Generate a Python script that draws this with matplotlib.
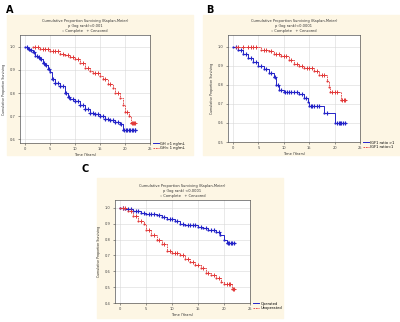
import numpy as np
import matplotlib
matplotlib.use('Agg')
import matplotlib.pyplot as plt
from matplotlib.patches import Rectangle

# PAINEL A - GH
a_azul_t = [0, 0.5, 1, 1.5, 2, 2.5, 3, 3.5, 4, 4.5, 5, 5.3, 6, 7, 8, 8.5, 9, 10, 11, 12, 13, 14, 15, 16, 17, 18, 19, 19.5, 22]
a_azul_s = [1.0, 0.99, 0.985, 0.975, 0.96, 0.955, 0.945, 0.93, 0.92, 0.905, 0.89, 0.86, 0.845, 0.83, 0.80, 0.785, 0.775, 0.765, 0.75, 0.73, 0.715, 0.71, 0.70, 0.69, 0.685, 0.675, 0.665, 0.64, 0.64]
a_azul_cens = [0.3, 0.8, 1.2, 1.8, 2.3, 2.8, 3.2, 3.8, 4.2, 4.8, 5.6, 6, 6.5, 7, 7.5, 8.2, 8.8, 9.5, 10, 10.5, 11, 11.5, 12, 12.5, 13, 13.5, 14, 14.5, 15, 15.5, 16, 16.5, 17, 17.5, 18, 18.5, 19.2,
               19.8, 20.1, 20.4, 20.7, 21, 21.3, 21.6, 21.9, 22]
a_verm_t = [1.5, 3, 5, 7, 8, 9, 10, 11, 12, 13, 13.5, 15, 15.5, 16.5, 17.5, 18, 19, 19.5, 20, 20.8, 21.2, 22]
a_verm_s = [1.0, 0.99, 0.98, 0.97, 0.965, 0.955, 0.945, 0.93, 0.91, 0.895, 0.885, 0.875, 0.86, 0.84, 0.82, 0.80, 0.78, 0.75, 0.72, 0.70, 0.67, 0.67]
a_verm_cens = [2, 2.5, 3.5, 4, 4.5, 5.5, 6, 6.5, 7.5, 8.5, 9.5, 10.5, 11.5, 12.5, 14, 14.5, 16, 17, 18.5, 20.3, 21.4, 21.6, 21.8, 22]

# PAINEL B - IGF1
b_azul_t = [0, 1, 2, 3, 4, 5, 6, 7, 8, 8.5, 9, 10, 13, 14, 14.7, 15, 18, 20, 22]
b_azul_s = [1.0, 0.98, 0.96, 0.94, 0.92, 0.90, 0.88, 0.86, 0.84, 0.80, 0.77, 0.76, 0.75, 0.73, 0.71, 0.69, 0.65, 0.60, 0.60]
b_azul_cens = [0.5, 1.5, 2.5, 3.5, 4.5, 5.5, 6.5, 7.5, 8.2, 8.8, 9.5, 10.3, 10.6, 11, 11.5, 12, 12.5, 13.5, 14.3, 15.3, 15.6, 16, 16.5, 17, 18.5, 20.5, 20.8, 21, 21.3, 21.6, 22]
b_verm_t = [0.5, 5.5, 7, 8, 9.5, 11, 12, 13, 14, 16, 17, 18.5, 18.8, 19, 21.2, 22]
b_verm_s = [1.0, 0.98, 0.975, 0.96, 0.95, 0.93, 0.91, 0.90, 0.89, 0.87, 0.85, 0.82, 0.79, 0.76, 0.72, 0.72]
b_verm_cens = [1, 2, 3, 3.5, 4, 4.5, 6, 6.5, 7.5, 8.5, 9, 10, 10.5, 11.5, 12.5, 13.5, 14.5, 15, 15.5, 16.5, 17.5, 18, 19.5, 20, 20.5, 21.5, 21.8, 22]

# PAINEL C - CIRURGIA
c_azul_t = [0, 1, 2.5, 4, 5, 7, 8, 9, 10.5, 11.5, 12.5, 15, 16, 17, 18.5, 19.3, 20, 20.5, 22]
c_azul_s = [1.0, 0.99, 0.98, 0.97, 0.96, 0.955, 0.94, 0.93, 0.92, 0.90, 0.89, 0.88, 0.87, 0.86, 0.85, 0.83, 0.80, 0.78, 0.78]
c_azul_cens = [0.5, 1.5, 2, 3, 3.5, 4.5, 5.5, 6, 6.5, 7.5, 8.5, 9.5, 10, 11, 12, 13, 13.5, 14, 14.5, 15.5, 16.5, 17.5, 18, 19, 20.8, 21, 21.3, 21.6, 22]
c_verm_t = [0, 1.5, 2.5, 3.5, 4.5, 5, 6, 7, 8, 9, 10, 11.5, 12.5, 13.5, 14.5, 15.5, 16.5, 17.5, 18.5, 19.5, 20, 21.5, 22]
c_verm_s = [1.0, 0.98, 0.95, 0.92, 0.90, 0.86, 0.83, 0.80, 0.77, 0.73, 0.715, 0.70, 0.68, 0.66, 0.64, 0.62, 0.59, 0.575, 0.56, 0.53, 0.52, 0.49, 0.49]
c_verm_cens = [0.5, 1, 2, 3, 4, 5.5, 6.5, 7.5, 8.5, 9.5, 10.5, 11, 12, 13, 14, 15, 16, 17, 18, 19, 20.5, 21, 21.2, 21.7, 22]

titulos = ['Cumulative Proportion Surviving (Kaplan-Meier)\np (log rank)<0.001\n\u25e6 Complete   + Censored',
           'Cumulative Proportion Surviving (Kaplan-Meier)\np (log rank)<0.0001\n\u25e6 Complete   + Censored',
           'Cumulative Proportion Surviving (Kaplan-Meier)\np (log rank) <0.0001\n\u25e6 Complete   + Censored']
legendas = [['GH >1 ng/mL', 'GH< 1 ng/mL'],
            ['IGF1 ratio >1', 'IGF1 ratio<1'],
            ['Operated', 'Unoperated']]

azul = '#2424c8'
vermelho = '#e23a3a'
bege = '#fdf6e4'
fs = 2.6

fig = plt.figure(figsize=(4, 3.22), dpi=100)

# fundos bege (atras dos eixos)
fig.patches.append(Rectangle((0.0175, 0.519), 0.465, 0.435, transform=fig.transFigure, color=bege, zorder=-5))
fig.patches.append(Rectangle((0.5075, 0.519), 0.4925, 0.435, transform=fig.transFigure, color=bege, zorder=-5))
fig.patches.append(Rectangle((0.2425, 0.0124), 0.465, 0.435, transform=fig.transFigure, color=bege, zorder=-5))

fig.text(0.015, 0.985, 'A', fontsize=7, fontweight='bold', va='top')
fig.text(0.515, 0.985, 'B', fontsize=7, fontweight='bold', va='top')
fig.text(0.205, 0.49, 'C', fontsize=7, fontweight='bold', va='top')

posicoes = [[0.05, 0.556, 0.325, 0.335],
            [0.57, 0.559, 0.33, 0.332],
            [0.2875, 0.059, 0.3375, 0.32]]
limites_y = [(0.585, 1.05), (0.5, 1.06), (0.4, 1.05)]
ticks_y = [[0.6, 0.7, 0.8, 0.9, 1.0], [0.5, 0.6, 0.7, 0.8, 0.9, 1.0], [0.4, 0.5, 0.6, 0.7, 0.8, 0.9, 1.0]]
dados = [(a_azul_t, a_azul_s, a_azul_cens, a_verm_t, a_verm_s, a_verm_cens),
         (b_azul_t, b_azul_s, b_azul_cens, b_verm_t, b_verm_s, b_verm_cens),
         (c_azul_t, c_azul_s, c_azul_cens, c_verm_t, c_verm_s, c_verm_cens)]


def surv_em(t, s, x):
    idx = np.searchsorted(np.array(t), np.array(x), side='right') - 1
    idx = np.clip(idx, 0, len(s) - 1)
    return np.array(s)[idx]


for i in range(3):
    ax = fig.add_axes(posicoes[i])
    at, as_, ac, vt, vs, vc = dados[i]
    l1, = ax.step(at, as_, where='post', color=azul, lw=0.7, zorder=3)
    ax.plot(at, as_, 'o', color=azul, ms=1.6, mew=0, zorder=4)
    ax.plot(ac, surv_em(at, as_, ac), '+', color=azul, ms=2.4, mew=0.8, zorder=4)
    l2, = ax.step(vt, vs, where='post', color=vermelho, lw=0.6, ls=(0, (2, 1)), zorder=3)
    ax.plot(vt, vs, 'o', color=vermelho, ms=1.5, mew=0, zorder=4)
    ax.plot(vc, surv_em(vt, vs, vc), '+', color=vermelho, ms=2.2, mew=0.7, zorder=4)

    ax.set_xlim(-1, 25)
    ax.set_ylim(limites_y[i])
    ax.set_xticks([0, 5, 10, 15, 20, 25])
    ax.set_yticks(ticks_y[i])
    ax.set_yticklabels([f'{v:.1f}' for v in ticks_y[i]])
    ax.tick_params(labelsize=fs, length=1.5, width=0.4, pad=1.5, colors='#444444')
    ax.grid(True, color='#d8d8d8', lw=0.4)
    ax.set_axisbelow(True)
    for sp in ax.spines.values():
        sp.set_linewidth(0.5)
        sp.set_color('#555555')
    ax.set_title(titulos[i], fontsize=fs, pad=2, linespacing=1.4, color='#333333')
    ax.set_xlabel('Time (Years)', fontsize=fs, labelpad=1.5, color='#333333')
    ax.set_ylabel('Cumulative Proportion Surviving', fontsize=2.3, labelpad=3, color='#333333')
    ax.legend([l1, l2], legendas[i], loc='upper left', bbox_to_anchor=(1.02, 0.02),
              fontsize=fs, frameon=False, handlelength=1.6, handletextpad=0.3,
              labelspacing=0.2, borderpad=0.1, borderaxespad=0.1)

plt.savefig('out.png', dpi=100)
